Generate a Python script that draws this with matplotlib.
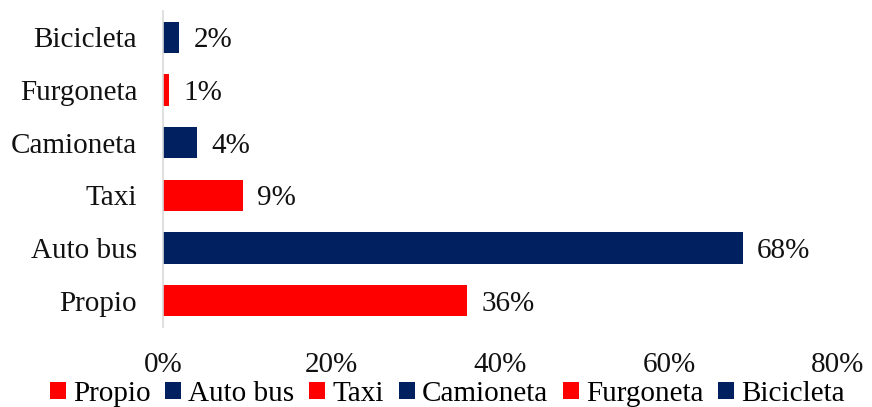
import matplotlib
matplotlib.use("Agg")
import matplotlib.pyplot as plt
import matplotlib.transforms as mtransforms
from matplotlib.patches import Patch

categories = ["Propio", "Auto bus", "Taxi", "Camioneta", "Furgoneta", "Bicicleta"]
values = [36.0, 68.7, 9.5, 4.0, 0.7, 1.9]
labels = ["36%", "68%", "9%", "4%", "1%", "2%"]
colors = ["#FF0000", "#002060", "#FF0000", "#002060", "#FF0000", "#002060"]
xticks = [0, 20, 40, 60, 80]

plt.rcParams["font.family"] = ["Liberation Serif", "DejaVu Serif"]
fs = 21
tc = "#111111"

fig = plt.figure(figsize=(8.72, 4.07), dpi=100)
ax = fig.add_axes([163/872, 1-327/407, (838-163)/872, (327-11)/407])

ypos = list(range(len(categories)))
ax.barh(ypos, values, height=0.59, color=colors)
shift = mtransforms.ScaledTranslation(0, -3/100, fig.dpi_scale_trans)
for y, v, l in zip(ypos, values, labels):
    ax.text(v + 1.7, y, l, va="center", ha="left", fontsize=fs, color=tc,
            transform=ax.transData + shift)

ax.set_xlim(0, 80)
ax.set_ylim(-0.5, len(categories) - 0.5)
ax.set_yticks(ypos)
ax.set_yticklabels(categories, fontsize=fs, color=tc)
for t in ax.get_yticklabels():
    t.set_transform(t.get_transform() + shift)
ax.set_xticks(xticks)
ax.set_xticklabels([f"{t}%" for t in xticks], fontsize=fs, color=tc)
ax.tick_params(axis="both", length=0)
ax.tick_params(axis="y", pad=18.5)
ax.tick_params(axis="x", pad=18)
for s in ["top", "right", "bottom"]:
    ax.spines[s].set_visible(False)
ax.spines["left"].set_color("#d9d9d9")
ax.spines["left"].set_linewidth(1.2)

handles = [Patch(facecolor=c, edgecolor="none") for c in colors]
fig.legend(handles, categories, loc="center", bbox_to_anchor=(0.513, 13/407),
           ncol=6, frameon=False, fontsize=fs, handlelength=0.55, handleheight=0.55,
           handletextpad=0.25, columnspacing=0.5, borderaxespad=0, borderpad=0)

fig.savefig("out.png", dpi=100)
